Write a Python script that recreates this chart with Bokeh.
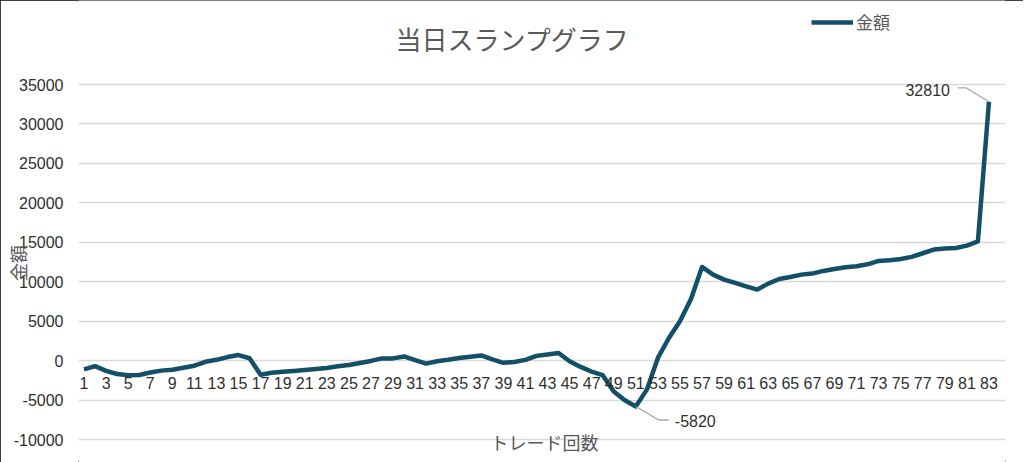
from bokeh.plotting import figure
from bokeh.models import Range1d, FixedTicker, Label, Legend, LegendItem
from bokeh.core.properties import value
from bokeh.embed import file_html
from bokeh.resources import INLINE

# ---- data ----
trades = list(range(1, 84))
amounts = [
    -1100, -700, -1300, -1700, -1850, -1820, -1500, -1270, -1150, -900,
    -650, -150, 100, 450, 700, 300, -1800, -1550, -1420, -1320,
    -1200, -1050, -930, -720, -550, -300, -40, 280, 280, 530,
    50, -380, -90, 100, 340, 500, 650, 150, -280, -170,
    90, 600, 780, 970, -80, -800, -1390, -1850, -3900, -5030,
    -5820, -3680, 340, 2870, 4990, 7820, 11870, 10900, 10270, 9850,
    9420, 9000, 9760, 10350, 10600, 10900, 11030, 11370, 11620, 11830,
    11960, 12210, 12640, 12720, 12890, 13150, 13610, 14070, 14200, 14280,
    14580, 15120, 32810,
]
x_tick_positions = list(range(1, 84, 2))
x_tick_labels = [str(i) for i in x_tick_positions]
y_ticks = [-10000, -5000, 0, 5000, 10000, 15000, 20000, 25000, 30000, 35000]
y_tick_labels = ["-10000", "-5000", "0", "5000", "10000", "15000", "20000", "25000", "30000", "35000"]
title_text = "当日スランプグラフ"
series_name = "金額"
x_title = "トレード回数"
y_title = "金額"

JP = "Noto Sans CJK JP"
NUM = "Liberation Sans"
LINE_COLOR = "#134f67"
GRID = "#d9d9d9"
LBL = "#303030"
TTL = "#595959"

# ---- layout (pixels) ----
W, H = 1023, 462
LB, RB = 78, 18
FW = W - LB - RB                 # frame spans the full height
Y_TOP_PX, Y_BOT_PX = 84, 439     # pixel rows of the 35000 / -10000 gridlines
YMAX, YMIN = 35000, -10000
py = (YMAX - YMIN) / (Y_BOT_PX - Y_TOP_PX)   # data units per pixel (y)
X0, X1 = 0.5, 84.5
px = (X1 - X0) / FW                          # data units per pixel (x)

p = figure(width=W, height=H,
           x_range=Range1d(X0, X1),
           y_range=Range1d(YMIN - (H - Y_BOT_PX) * py, YMAX + Y_TOP_PX * py),
           output_backend="svg", toolbar_location=None, x_axis_location=None,
           min_border_left=LB, min_border_right=RB, min_border_top=0, min_border_bottom=0)
p.outline_line_color = None
p.background_fill_color = "white"
p.border_fill_color = "white"
p.styles = {"outline": "2px solid #000", "outline-offset": "-2px"}

ax = p.yaxis[0]
ax.ticker = FixedTicker(ticks=y_ticks)
ax.bounds = (YMIN, YMAX)
ax.major_label_overrides = {t: l for t, l in zip(y_ticks, y_tick_labels)}
ax.axis_line_color = None
ax.major_tick_line_color = None
ax.minor_tick_line_color = None
ax.major_tick_out = 0
ax.major_tick_in = 0
ax.major_label_standoff = 15
ax.major_label_text_font = NUM
ax.major_label_text_font_size = "16px"
ax.major_label_text_color = LBL
# ideographic spaces shift the vertical title towards the centre of the gridded area
ax.axis_label = y_title + "\u3000\u3000\u3000\u2002"
ax.axis_label_text_font = JP
ax.axis_label_text_font_size = "18px"
ax.axis_label_text_font_style = "normal"
ax.axis_label_text_color = TTL
ax.axis_label_standoff = -20

p.ygrid.ticker = FixedTicker(ticks=y_ticks)
p.ygrid.grid_line_color = GRID
p.ygrid.grid_line_width = 1.5
p.xgrid.visible = False

line = p.line(trades, amounts, line_color=LINE_COLOR, line_width=4.5, line_join="round")

# category labels along the zero line
p.text(x=x_tick_positions, y=[0] * len(x_tick_positions), text=x_tick_labels,
       y_offset=22, text_align="center", text_baseline="middle",
       text_font=value(NUM), text_font_size="16px", text_color=LBL)

# data labels for min and max with leader lines
imax = amounts.index(max(amounts))
imin = amounts.index(min(amounts))
xm, ym = trades[imax], amounts[imax]
xn, yn = trades[imin], amounts[imin]
p.line([xm, xm - 23 * px, xm - 31 * px], [ym, ym + 14 * py, ym + 14 * py],
       line_color="#a6a6a6", line_width=1.3)
p.line([xn, xn + 23 * px, xn + 33 * px], [yn, yn - 13.5 * py, yn - 13.5 * py],
       line_color="#a6a6a6", line_width=1.3)
p.text(x=[xm], y=[ym], text=[str(ym)], x_offset=-39, y_offset=-12,
       text_align="right", text_baseline="middle",
       text_font=value(NUM), text_font_size="16px", text_color=LBL)
p.text(x=[xn], y=[yn], text=[str(yn)], x_offset=39, y_offset=14,
       text_align="left", text_baseline="middle",
       text_font=value(NUM), text_font_size="16px", text_color=LBL)

# title and x-axis title (screen units from frame bottom-left)
p.add_layout(Label(x=512 - LB, y=H - 38, x_units="screen", y_units="screen",
                   text=title_text, text_font=JP, text_font_size="26px", text_color=TTL,
                   text_align="center", text_baseline="middle"))
p.add_layout(Label(x=544 - LB, y=H - 441, x_units="screen", y_units="screen",
                   text=x_title, text_font=JP, text_font_size="18px", text_color=TTL,
                   text_align="center", text_baseline="middle"))

legend = Legend(items=[LegendItem(label=series_name, renderers=[line])],
                location=(811 - LB, H - 34), padding=0, margin=0,
                glyph_width=42, glyph_height=18, label_height=18, label_standoff=3,
                border_line_color=None, background_fill_alpha=0,
                label_text_font=JP, label_text_font_size="17px", label_text_color=TTL)
p.add_layout(legend)

open("out.html", "w").write(file_html(p, INLINE))
